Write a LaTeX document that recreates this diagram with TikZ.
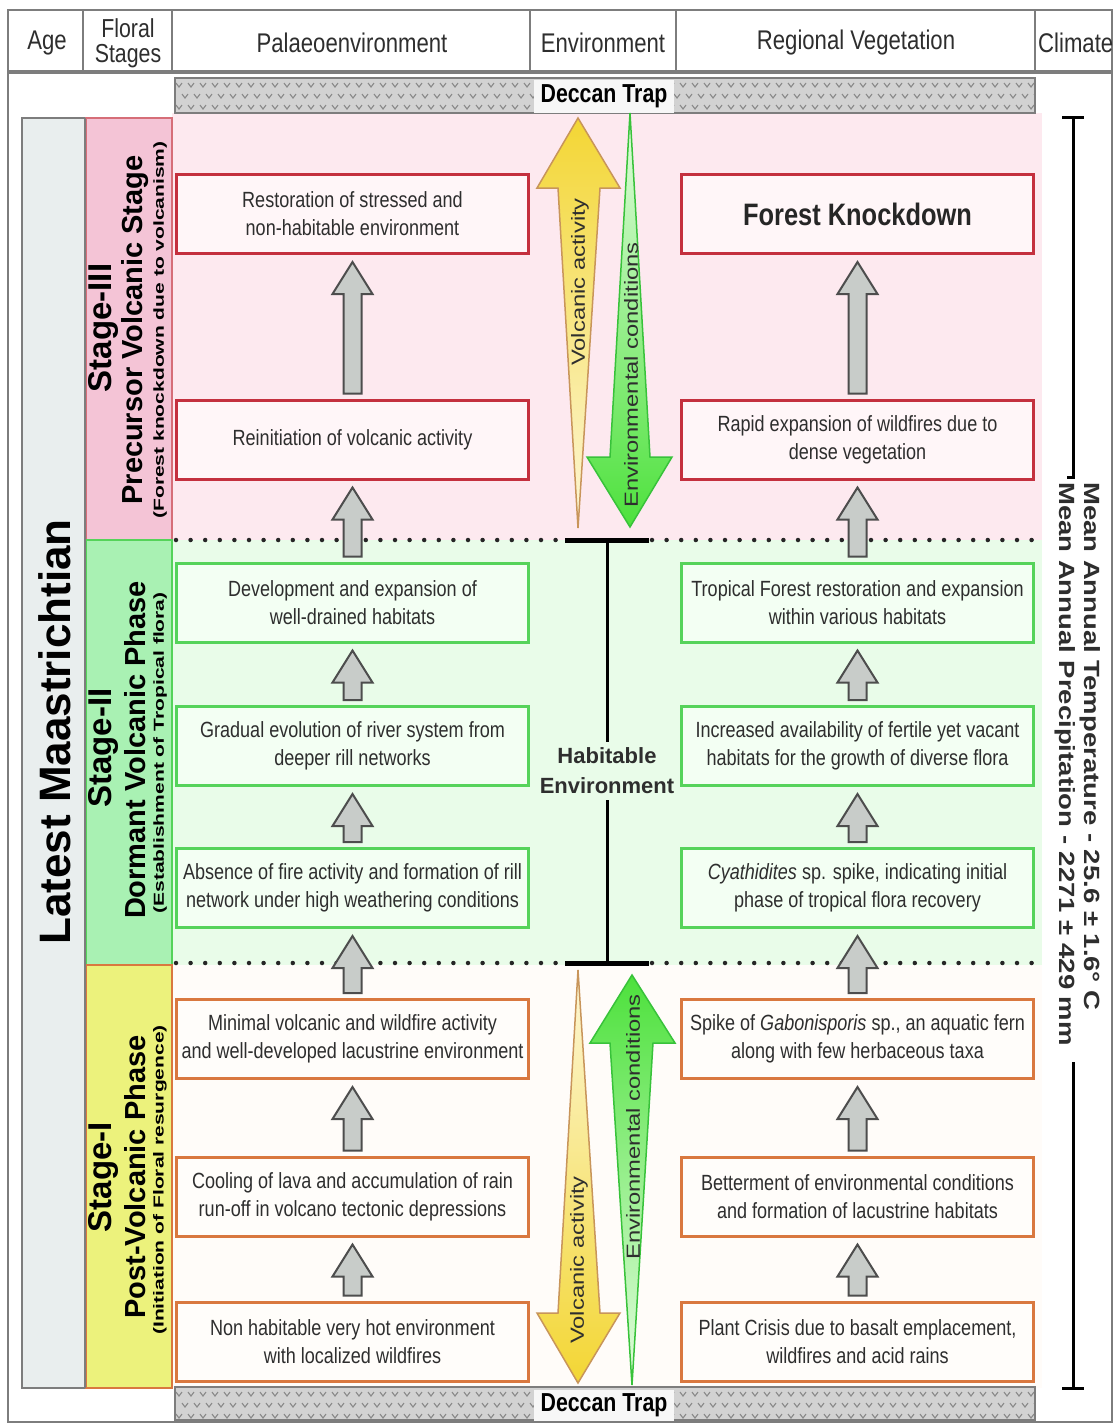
\documentclass[tikz,border=0pt]{standalone}
\usepackage{fontspec}
\setmainfont{Liberation Sans}
\newfontfamily\nar[FakeStretch=0.82]{Liberation Sans}
\newfontfamily\wid[FakeStretch=1.25]{Liberation Sans}
\newfontfamily\widd[FakeStretch=1.45]{Liberation Sans}
\usetikzlibrary{calc}
\definecolor{txt}{HTML}{2E2E2E}
\definecolor{hdrline}{HTML}{7D7D7D}
\definecolor{redb}{HTML}{C4303E}
\definecolor{greenb}{HTML}{55D35A}
\definecolor{orangeb}{HTML}{D9783F}
\definecolor{boxpink}{HTML}{FFF6F8}
\definecolor{boxgreen}{HTML}{F3FFF3}
\definecolor{boxorange}{HTML}{FFFDFA}
\definecolor{bgthree}{HTML}{FDE9EF}
\definecolor{bgtwo}{HTML}{E9FCE9}
\definecolor{bgone}{HTML}{FFFCF9}
\definecolor{sthree}{HTML}{F4C4D6}
\definecolor{stwo}{HTML}{A9F1B3}
\definecolor{sone}{HTML}{ECF27C}
\definecolor{agefill}{HTML}{E9EEEE}
\definecolor{trapbg}{HTML}{D2D2D2}
\definecolor{trapmk}{HTML}{8A8A8A}
\definecolor{trapwhite}{HTML}{F7F7F7}
\definecolor{yelS}{HTML}{F3D634}
\definecolor{yelP}{HTML}{FDF7D8}
\definecolor{yelO}{HTML}{C8955A}
\definecolor{grnS}{HTML}{4DE13C}
\definecolor{grnP}{HTML}{E4FDE0}
\definecolor{grnO}{HTML}{38C23A}
\definecolor{garrfill}{HTML}{C8CCC9}
\definecolor{garrline}{HTML}{4D4D4D}
\tikzset{
  lbox/.style={draw, line width=3pt, minimum width=352pt, minimum height=79pt, inner sep=2pt, align=center, text=txt, font=\nar\fontsize{22}{28}\selectfont},
  sthreebox/.style={lbox, draw=redb, fill=boxpink},
  stwobox/.style={lbox, draw=greenb, fill=boxgreen},
  sonebox/.style={lbox, draw=orangeb, fill=boxorange},
  hdr/.style={text=txt, font=\nar\fontsize{27}{27}\selectfont, inner sep=0pt},
  hdrsmall/.style={text=txt, font=\nar\fontsize{26}{25}\selectfont, inner sep=0pt, align=center},
  garrow/.style={fill=garrfill, draw=garrline, line width=2pt, line join=miter},
  dotline/.style={line width=4.5pt, line cap=round, dash pattern=on 0pt off 14.6pt, black!85},
  stagebig/.style={rotate=90, inner sep=0pt, font=\bfseries\fontsize{33}{33}\selectfont},
  stagemid/.style={rotate=90, inner sep=0pt, font=\bfseries\fontsize{29}{29}\selectfont},
  stagesmall/.style={rotate=90, inner sep=0pt, font=\widd\bfseries\fontsize{14.5}{14.5}\selectfont},
  arrtext/.style={rotate=90, inner sep=0pt, text=txt, font=\wid\fontsize{19}{19}\selectfont},
  trapmark/.style={trapmk, line width=1.1pt},
  beam/.style={black, line width=5pt},
  beamv/.style={black, line width=3pt},
}
\newcommand\grayup[2]{%
  \coordinate (gT) at ($(#2.south)+(0,7)$);
  \coordinate (gB) at ($(#1.north)+(0,-5)$);
  \draw[garrow] (gT) -- ++(20,32) -- ++(-11,0) -- ($(gB)+(9,0)$) -- ($(gB)+(-9,0)$) -- ($(gT)+(-9,32)$) -- ++(-11,0) -- cycle;}
\newcommand\trapband[2]{%
  \begin{scope}
    \clip (175,#1) rectangle (1035,#2);
    \fill[trapbg] (175,#1) rectangle (1035,#2);
    \foreach \r in {0,1,2}{
      \foreach \i in {0,...,72}{
        \draw[trapmark] ({176+\i*12+mod(\r,2)*6},{#1+5+\r*11}) -- ++(3,4) -- ++(3,-4);
      }
    }
  \end{scope}
  \draw[hdrline, line width=1.5pt] (175,#1) rectangle (1035,#2);}
\begin{document}
\begin{tikzpicture}[x=1pt,y=-1pt]
\useasboundingbox (0,0) rectangle (1114,1425);
\fill[white] (0,0) rectangle (1114,1425);
% region backgrounds
\fill[bgthree] (172,113) rectangle (1042,540);
\fill[bgtwo] (172,540) rectangle (1042,965);
\fill[bgone] (172,965) rectangle (1042,1388);
% outer frame and header
\draw[hdrline, line width=2.5pt] (8,10) rectangle (1112,1422);
\draw[hdrline, line width=3.5pt] (8,72) -- (1112,72);
\foreach \xx in {83,172,530,676,1035}{\draw[hdrline, line width=2.5pt] (\xx,10) -- (\xx,72);}
\node[hdr] (hage) at (47,43) {Age};
\node[hdrsmall] (hflo) at (128,43) {Floral\\Stages};
\node[hdr] (hpal) at (352,43) {Palaeoenvironment};
\node[hdr] (henv) at (603,43) {Environment};
\node[hdr] (hveg) at (856,43) {Regional Vegetation};
\node[hdr, anchor=west] (hcli) at (1038,43) {Climate};
% age column
\draw[hdrline, fill=agefill, line width=2pt] (22,118) rectangle (85,1388);
\node[rotate=90, inner sep=0pt, font=\bfseries\fontsize{44}{44}\selectfont] (age) at (55,732) {Latest Maastrichtian};
% stage cells
\draw[fill=sthree, draw=redb!70, line width=1.5pt] (86,118) rectangle (172,540);
\draw[fill=stwo, draw=greenb, line width=1.5pt] (86,540) rectangle (172,965);
\draw[fill=sone, draw=orangeb, line width=1.5pt] (86,965) rectangle (172,1388);
\draw[hdrline, line width=2pt] (85,118) -- (85,1388);
\node[stagebig] (sIIIa) at (103,328) {Stage-III};
\node[stagemid] (sIIIb) at (135,330) {Precursor Volcanic Stage};
\node[stagesmall] (sIIIc) at (160,330) {(Forest knockdown due to volcanism)};
\node[stagebig] (sIIa) at (103,748) {Stage-II};
\node[stagemid] (sIIb) at (135,750) {Dormant Volcanic Phase};
\node[stagesmall] (sIIc) at (160,753) {(Establishment of Tropical flora)};
\node[stagebig] (sIa) at (103,1177) {Stage-I};
\node[stagemid] (sIb) at (135,1177) {Post-Volcanic Phase};
\node[stagesmall] (sIc) at (160,1180) {(Initiation of Floral resurgence)};
% Deccan trap bands
\trapband{78}{113}
\trapband{1387}{1420}
\node[fill=trapwhite, minimum width=140pt, minimum height=33pt, inner sep=0pt, font=\nar\bfseries\fontsize{26}{26}\selectfont] (dtop) at (604,96) {Deccan Trap};
\node[fill=trapwhite, minimum width=140pt, minimum height=31pt, inner sep=0pt, font=\nar\bfseries\fontsize{26}{26}\selectfont] (dbot) at (604,1405) {Deccan Trap};
% dotted stage boundaries
\draw[dotline] (176,540) -- (562,540);
\draw[dotline] (652,540) -- (1035,540);
\draw[dotline] (176,963) -- (562,963);
\draw[dotline] (652,963) -- (1035,963);
% environment arrows stage III
\shade[top color=yelS, bottom color=yelP] (578,118) -- (620,188) -- (600,188) -- (578,528) -- (558,188) -- (537,188) -- cycle;
\draw[yelO, line width=1.5pt, line join=miter] (578,118) -- (620,188) -- (600,188) -- (578,528) -- (558,188) -- (537,188) -- cycle;
\shade[top color=grnP, bottom color=grnS] (630,113) -- (650,457) -- (672,457) -- (630,527) -- (587,457) -- (610,457) -- cycle;
\draw[grnO, line width=1.5pt, line join=miter] (630,113) -- (650,457) -- (672,457) -- (630,527) -- (587,457) -- (610,457) -- cycle;
\node[arrtext] (vaIII) at (580,282) {Volcanic activity};
\node[arrtext] (ecIII) at (631,375) {Environmental conditions};
% environment arrows stage I
\shade[top color=yelP, bottom color=yelS] (578,970) -- (600,1313) -- (620,1313) -- (578,1383) -- (537,1313) -- (558,1313) -- cycle;
\draw[yelO, line width=1.5pt, line join=miter] (578,970) -- (600,1313) -- (620,1313) -- (578,1383) -- (537,1313) -- (558,1313) -- cycle;
\shade[top color=grnS, bottom color=grnP] (632,975) -- (675,1043) -- (653,1043) -- (632,1385) -- (610,1043) -- (590,1043) -- cycle;
\draw[grnO, line width=1.5pt, line join=miter] (632,975) -- (675,1043) -- (653,1043) -- (632,1385) -- (610,1043) -- (590,1043) -- cycle;
\node[arrtext] (vaI) at (579,1260) {Volcanic activity};
\node[arrtext] (ecI) at (633,1127) {Environmental conditions};
% habitable environment beam
\node[inner sep=0pt, align=center, text=txt, font=\bfseries\fontsize{22}{30}\selectfont] (hab) at (607,771) {Habitable\\Environment};
\coordinate (hbtl) at (565,540); \coordinate (hbtr) at (649,540); \coordinate (hbtm) at (607,540);
\coordinate (hbbl) at (565,963); \coordinate (hbbr) at (649,963); \coordinate (hbbm) at (607,963);
\draw[beam] (hbtl) -- (hbtr);
\draw[beam] (hbbl) -- (hbbr);
\draw[beamv] (hbtm) -- ($(hab.north)+(0,-6)$);
\draw[beamv] ($(hab.south)+(0,6)$) -- (hbbm);
% climate
\node[rotate=-90, align=left, inner sep=0pt, text=txt, font=\wid\bfseries\fontsize{22}{25}\selectfont] (clim) at (1078,764) {Mean Annual Temperature - 25.6 ± 1.6° C\\Mean Annual Precipitation - 2271 ± 429 mm};
\coordinate (ctop) at (1073,117); \coordinate (cbot) at (1073,1388);
\draw[beamv] (1062,117) -- (1084,117);
\draw[beamv] (1062,1388) -- (1084,1388);
\draw[beamv] (ctop) -- (1073,477) -- (1067,477);
\draw[beamv] (1073,1062) -- (cbot);
% left column boxes
\node[sthreebox] (L1) at (352.5,214) {Restoration of stressed and\\non-habitable environment};
\node[sthreebox] (L2) at (352.5,439.5) {Reinitiation of volcanic activity};
\node[stwobox] (L3) at (352.5,602.5) {Development and expansion of\\well-drained habitats};
\node[stwobox] (L4) at (352.5,746) {Gradual evolution of river system from\\deeper rill networks};
\node[stwobox] (L5) at (352.5,888) {Absence of fire activity and formation of rill\\network under high weathering conditions};
\node[sonebox] (L6) at (352.5,1039) {Minimal volcanic and wildfire activity\\and well-developed lacustrine environment};
\node[sonebox] (L7) at (352.5,1196.5) {Cooling of lava and accumulation of rain\\run-off in volcano tectonic depressions};
\node[sonebox] (L8) at (352.5,1341.5) {Non habitable very hot environment\\with localized wildfires};
% right column boxes
\node[sthreebox, font=\nar\bfseries\fontsize{31}{31}\selectfont, text=black!85] (R1) at (857.5,214) {Forest Knockdown};
\node[sthreebox] (R2) at (857.5,439.5) {Rapid expansion of wildfires due to\\dense vegetation};
\node[stwobox] (R3) at (857.5,602.5) {Tropical Forest restoration and expansion\\within various habitats};
\node[stwobox] (R4) at (857.5,746) {Increased availability of fertile yet vacant\\habitats for the growth of diverse flora};
\node[stwobox] (R5) at (857.5,888) {\textit{Cyathidites} sp. spike, indicating initial\\phase of tropical flora recovery};
\node[sonebox] (R6) at (857.5,1039) {Spike of \textit{Gabonisporis} sp., an aquatic fern\\along with few herbaceous taxa};
\node[sonebox] (R7) at (857.5,1196.5) {Betterment of environmental conditions\\and formation of lacustrine habitats};
\node[sonebox] (R8) at (857.5,1341.5) {Plant Crisis due to basalt emplacement,\\wildfires and acid rains};
% gray arrows
\grayup{L2}{L1} \grayup{L3}{L2} \grayup{L4}{L3} \grayup{L5}{L4}
\grayup{L6}{L5} \grayup{L7}{L6} \grayup{L8}{L7}
\grayup{R2}{R1} \grayup{R3}{R2} \grayup{R4}{R3} \grayup{R5}{R4}
\grayup{R6}{R5} \grayup{R7}{R6} \grayup{R8}{R7}
\end{tikzpicture}
\end{document}
